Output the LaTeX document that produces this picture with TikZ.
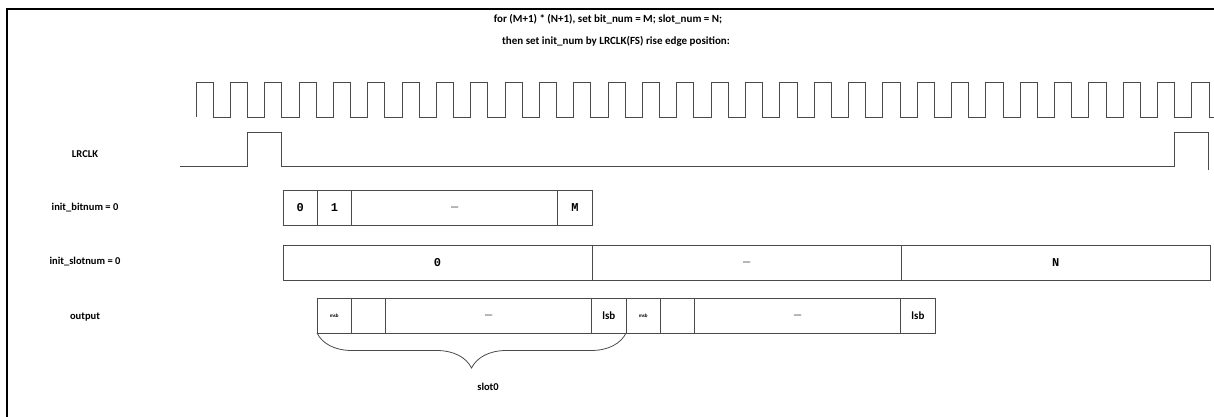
\documentclass[tikz,border=0pt]{standalone}
\usepackage{fontspec}
\setmainfont{Carlito}
\newfontfamily\cellfont{Liberation Mono}
\usetikzlibrary{positioning,decorations.pathreplacing,calc}
\definecolor{wire}{HTML}{4A4A4A}
\def\pp{34.34}
\begin{document}
\begin{tikzpicture}[x=1pt,y=-1pt,
  lbl/.style={font=\bfseries\fontsize{10.5}{12}\selectfont,inner sep=0pt},
  wave/.style={wire,line width=0.9pt},
  cell/.style={draw=wire,line width=0.9pt,minimum height=35pt,minimum width=\pp pt,
    inner sep=0pt,outer sep=0pt,font=\cellfont\bfseries\fontsize{12}{12}\selectfont},
  wide/.style={cell,minimum width=6*\pp pt},
  slotcell/.style={cell,minimum width=9*\pp pt},
  tinytxt/.style={font=\bfseries\fontsize{5}{5}\selectfont},
  smalltxt/.style={font=\bfseries\fontsize{11}{12}\selectfont}]
  \useasboundingbox (0,0) rectangle (1214,417);
  % frame
  \draw[line width=1.1pt] (7,417) -- (7,9) -- (1214,9);

  % title
  \node[lbl,font=\bfseries\fontsize{11}{12}\selectfont] (head1) at (608,19)
    {for (M+1) * (N+1), set bit\_num = M; slot\_num = N;};
  \node[lbl,font=\bfseries\fontsize{11}{12}\selectfont] (head2) at (616,41)
    {then set init\_num by LRCLK(FS) rise edge position:};

  % row labels
  \node[lbl] (lrclk) at (85,154) {LRCLK};
  \node[lbl] (bitlbl) at (85,208) {init\_bitnum = 0};
  \node[lbl] (slotlbl) at (85,262) {init\_slotnum = 0};
  \node[lbl] (outlbl) at (85,317) {output};

  % bit clock
  \draw[wave] (196,117) \foreach \i in {0,...,28} {
      -- ++(0,-35) -- ++(\pp/2,0) -- ++(0,35) -- ++(\pp/2,0) }
    -- ++(0,-35) -- ++(\pp/2,0) -- ++(0,35) -- (1214,117);

  % LRCLK
  \draw[wave] (180,166) -- (247.5,166) -- (247.5,132) -- (281.9,132) -- (281.9,166)
    -- (1174,166) -- (1174,132) -- (1208.5,132) -- (1208.5,170);

  % init_bitnum row
  \node[cell] (b0) at ({283+\pp/2},207.5) {0};
  \node[cell,right=0pt of b0] (b1) {1};
  \node[wide,right=0pt of b1] (b2) {\_};
  \node[cell,right=0pt of b2] (b3) {M};

  % init_slotnum row
  \node[slotcell] (s0) at ({283+4.5*\pp},262.5) {0};
  \node[slotcell,right=0pt of s0] (s1) {\_};
  \node[slotcell,right=0pt of s1] (s2) {N};

  % output row
  \node[cell,tinytxt] (o0) at ({317+\pp/2},315.5) {msb};
  \node[cell,right=0pt of o0] (o1) {};
  \node[wide,right=0pt of o1] (o2) {\_};
  \node[cell,smalltxt,right=0pt of o2] (o3) {lsb};
  \node[cell,tinytxt,right=0pt of o3] (o4) {msb};
  \node[cell,right=0pt of o4] (o5) {};
  \node[wide,right=0pt of o5] (o6) {\_};
  \node[cell,smalltxt,right=0pt of o6] (o7) {lsb};

  % slot brace
  \draw[wire,line width=0.8pt,decorate,decoration={brace,mirror,amplitude=35pt}]
    (o0.south west) -- (o3.south east);
  \node[lbl] (slot0) at (488,387) {slot0};
\end{tikzpicture}
\end{document}
